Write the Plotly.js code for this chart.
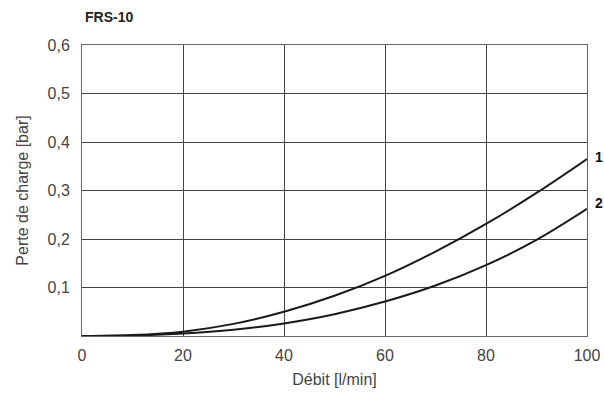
<!DOCTYPE html>
<html>
<head>
<meta charset="utf-8">
<script src="https://cdn.plot.ly/plotly-3.0.1.min.js"></script>
<style>html,body{margin:0;padding:0;background:#fff;}#chart{width:604px;height:394px;}</style>
</head>
<body>
<div id="chart"></div>
<script>
const flow = [0, 10, 20, 30, 40, 50, 60, 70, 80, 90, 100];
const curve1 = [0, 0.002, 0.009, 0.025, 0.050, 0.083, 0.124, 0.174, 0.231, 0.295, 0.365];
const curve2 = [0, 0.001, 0.005, 0.013, 0.026, 0.045, 0.071, 0.104, 0.146, 0.198, 0.262];
const seriesLabels = ["1", "2"];
const xTicks = [0, 20, 40, 60, 80, 100];
const yTickVals = [0.1, 0.2, 0.3, 0.4, 0.5, 0.6];
const yTickText = ["0,1", "0,2", "0,3", "0,4", "0,5", "0,6"];

const font = "Liberation Sans, Arial, Helvetica, sans-serif";
const lineStyle = {color: "#1a1a1a", width: 2, shape: "spline", smoothing: 1};

const traces = [
  {x: flow, y: curve1, mode: "lines", line: lineStyle, name: seriesLabels[0], hoverinfo: "skip"},
  {x: flow, y: curve2, mode: "lines", line: lineStyle, name: seriesLabels[1], hoverinfo: "skip"}
];

const layout = {
  width: 604, height: 394,
  margin: {l: 82, r: 17, t: 45, b: 58},
  paper_bgcolor: "#fff", plot_bgcolor: "#fff",
  showlegend: false,
  font: {family: font, color: "#333", size: 14},
  title: {text: "<b>FRS-10</b>", font: {family: font, size: 14, color: "#222"},
          x: 85 / 604, xref: "container", xanchor: "left", y: 1 - 17 / 394, yref: "container", yanchor: "middle"},
  xaxis: {
    range: [0, 100], tickvals: xTicks, ticktext: xTicks.map(String),
    showgrid: true, gridcolor: "#444", gridwidth: 1,
    showline: true, linecolor: "#666", linewidth: 1, mirror: true,
    ticks: "outside", ticklen: 5, tickcolor: "rgba(0,0,0,0)",
    zeroline: false, fixedrange: true,
    tickfont: {family: font, size: 16, color: "#444"},
    title: {text: "Débit [l/min]", font: {family: font, size: 16, color: "#444"}, standoff: 10}
  },
  yaxis: {
    range: [0, 0.6], tickvals: yTickVals, ticktext: yTickText,
    showgrid: true, gridcolor: "#444", gridwidth: 1,
    showline: true, linecolor: "#666", linewidth: 1, mirror: true,
    ticks: "outside", ticklen: 8, tickcolor: "rgba(0,0,0,0)",
    zeroline: false, fixedrange: true,
    tickfont: {family: font, size: 16, color: "#444"},
    title: {text: "Perte de charge [bar]", font: {family: font, size: 16, color: "#444"}, standoff: 14}
  },
  annotations: [
    {x: flow[flow.length - 1], y: curve1[curve1.length - 1], text: "<b>" + seriesLabels[0] + "</b>",
     showarrow: false, xanchor: "left", xshift: 6, yshift: 2, font: {family: font, size: 14, color: "#111"}},
    {x: flow[flow.length - 1], y: curve2[curve2.length - 1], text: "<b>" + seriesLabels[1] + "</b>",
     showarrow: false, xanchor: "left", xshift: 6, yshift: 6, font: {family: font, size: 14, color: "#111"}}
  ]
};

Plotly.newPlot("chart", traces, layout, {displayModeBar: false, staticPlot: true});
</script>
</body>
</html>
